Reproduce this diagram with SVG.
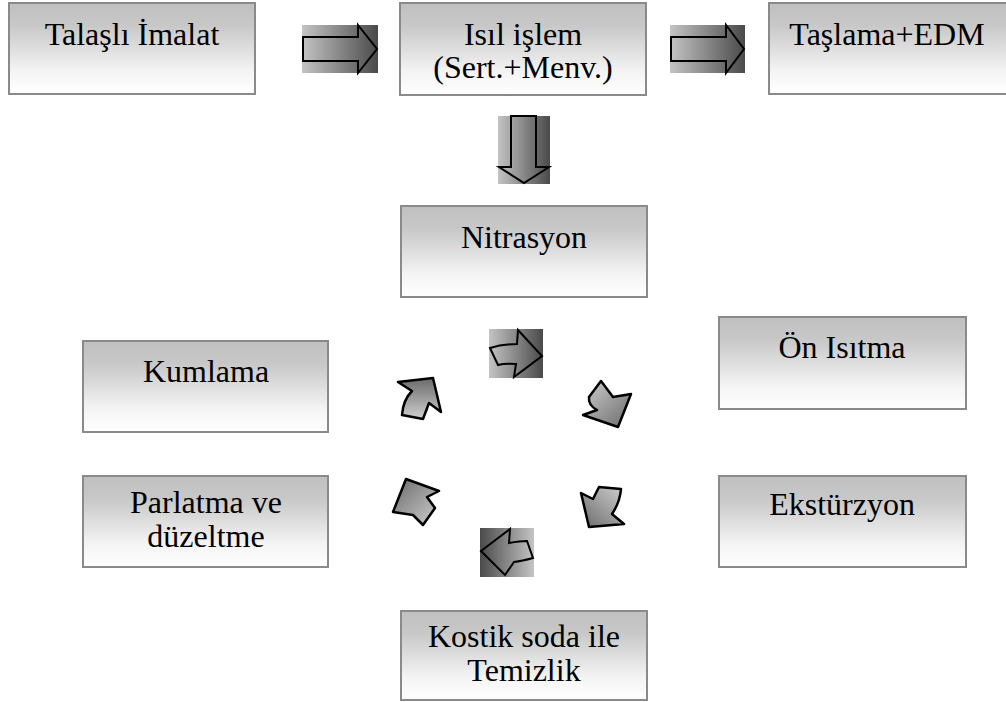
<svg xmlns="http://www.w3.org/2000/svg" width="1006" height="702" viewBox="0 0 1006 702">
<defs>
<linearGradient id="boxg" x1="0" y1="0" x2="0" y2="1">
<stop offset="0" stop-color="#c0c0c0"/>
<stop offset="0.25" stop-color="#c8c8c8"/>
<stop offset="0.75" stop-color="#f4f4f4"/>
<stop offset="1" stop-color="#ffffff"/>
</linearGradient>
<linearGradient id="hR" x1="0" y1="0" x2="1" y2="0">
<stop offset="0" stop-color="#c4c4c4"/>
<stop offset="1" stop-color="#4a4a4a"/>
</linearGradient>
<linearGradient id="hL" x1="1" y1="0" x2="0" y2="0">
<stop offset="0" stop-color="#c4c4c4"/>
<stop offset="1" stop-color="#4a4a4a"/>
</linearGradient>
<linearGradient id="gUp" x1="0.5" y1="1" x2="0.5" y2="0">
<stop offset="0" stop-color="#cfcfcf"/>
<stop offset="1" stop-color="#6a6a6a"/>
</linearGradient>
<linearGradient id="gUL" x1="1" y1="1" x2="0" y2="0">
<stop offset="0" stop-color="#cfcfcf"/>
<stop offset="1" stop-color="#6a6a6a"/>
</linearGradient>
<linearGradient id="gDR" x1="0" y1="0" x2="1" y2="1">
<stop offset="0" stop-color="#cfcfcf"/>
<stop offset="1" stop-color="#6a6a6a"/>
</linearGradient>
<linearGradient id="gDL" x1="1" y1="0" x2="0" y2="1">
<stop offset="0" stop-color="#cfcfcf"/>
<stop offset="1" stop-color="#6a6a6a"/>
</linearGradient>
</defs>
<style>
.box{fill:url(#boxg);stroke:#8a8a8a;stroke-width:2}
.t{font-size:32px;fill:#000;text-anchor:middle}
.ol{fill:none;stroke:#000;stroke-width:2;stroke-linejoin:miter}
.ca{stroke:#000;stroke-width:2.5;stroke-linejoin:round}
</style>
<rect width="1006" height="702" fill="#fff"/>

<g id="connectors">
<g id="arrow-1">
<rect x="302" y="25" width="76" height="48" fill="url(#hR)"/>
<path class="ol" d="M303 37 H358 V25 L377 49 L358 73 V61 H303 Z"/>
</g>
<g id="arrow-2">
<rect x="670" y="25" width="75" height="48" fill="url(#hR)"/>
<path class="ol" d="M671 37 H726 V25 L744 49 L726 73 V61 H671 Z"/>
</g>
<g id="arrow-down">
<rect x="498" y="116" width="52" height="68" fill="url(#hR)"/>
<path class="ol" d="M511 116 H536 V167 H549 L524 183 L499 167 H511 Z"/>
</g>
<g id="cycle-top">
<rect x="489" y="329" width="54" height="49" fill="url(#hR)"/>
<path class="ol" d="M490 348 Q502 344 517 344 L518 330 L542 356 L514 377 L516 364 Q505 363 498 365 Z"/>
</g>
<path id="cycle-dr" class="ca" fill="url(#gDR)" d="M601 381 L613 397 L631 394 L618 427 L583 415 L597 410 Q588 405 589 397 Z"/>
<path id="cycle-dl" class="ca" fill="url(#gDL)" d="M581 493 L593 499 L599 487 L621 489 Q620 502 612 514 L624 524 L589 527 Z"/>
<g id="cycle-bottom">
<rect x="480" y="528" width="54" height="49" fill="url(#hL)"/>
<path class="ol" d="M481 551 L510 529 L509 543 Q520 541 527 541 L533 558 Q522 561 514 562 L505 575 Z"/>
</g>
<path id="cycle-ul" class="ca" fill="url(#gUL)" d="M406 479 L439 491 L427 497 L435 508 L423 525 L413 515 L393 512 Z"/>
<path id="cycle-ur" class="ca" fill="url(#gUp)" d="M398 382 L433 378 L441 412 L429 403 L423 419 L402 415 Q403 400 412 391 Z"/>
</g>

<g font-family="'Liberation Serif', Tinos, 'DejaVu Serif', 'Times New Roman', serif">
<g id="n-talasli">
<rect class="box" x="9" y="3" width="246" height="91"/>
<text class="t" x="132" y="45">Talaşlı İmalat</text>
</g>
<g id="n-isil">
<rect class="box" x="400" y="3" width="246" height="92"/>
<text class="t" x="523" y="45">Isıl işlem</text>
<text class="t" x="523" y="78">(Sert.+Menv.)</text>
</g>
<g id="n-taslama">
<rect class="box" x="769" y="3" width="246" height="91"/>
<text class="t" x="887" y="45">Taşlama+EDM</text>
</g>
<g id="n-nitrasyon">
<rect class="box" x="401" y="206" width="246" height="91"/>
<text class="t" x="524" y="248">Nitrasyon</text>
</g>
<g id="n-onisitma">
<rect class="box" x="719" y="317" width="247" height="92"/>
<text class="t" x="842" y="358">Ön Isıtma</text>
</g>
<g id="n-kumlama">
<rect class="box" x="83" y="341" width="245" height="91"/>
<text class="t" x="206" y="382">Kumlama</text>
</g>
<g id="n-ekstruzyon">
<rect class="box" x="719" y="476" width="247" height="91"/>
<text class="t" x="842" y="515">Ekstürzyon</text>
</g>
<g id="n-parlatma">
<rect class="box" x="83" y="476" width="245" height="91"/>
<text class="t" x="206" y="513">Parlatma ve</text>
<text class="t" x="206" y="547">düzeltme</text>
</g>
<g id="n-kostik">
<rect class="box" x="401" y="611" width="246" height="89"/>
<text class="t" x="524" y="647">Kostik soda ile</text>
<text class="t" x="524" y="681">Temizlik</text>
</g>
</g>
</svg>
